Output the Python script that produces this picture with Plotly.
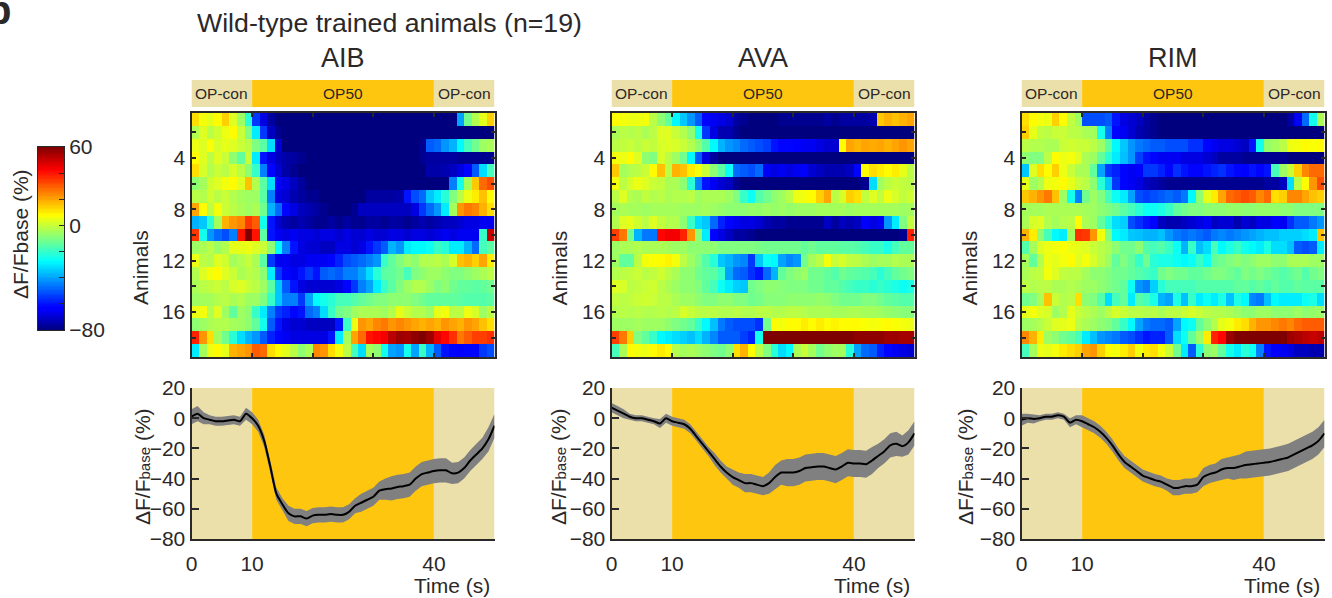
import numpy as np
import plotly.graph_objects as go

# ---------- data ----------
panel_names = ["AIB", "AVA", "RIM"]

aib_rows = [
[12,6,4,8,14,3,-6,-22,-55,-68,-76,-80,-80,-80,-80,-80,-80,-80,-80,-80,-80,-80,-80,-80,-80,-80,-80,-80,-80,-80,-80,-80,-80,-80,-80,-40,-12,-3,4,14],
[-3,3,-2,1,5,8,0,-10,-30,-55,-72,-78,-80,-80,-80,-80,-80,-80,-80,-80,-80,-80,-80,-80,-80,-80,-80,-80,-80,-80,-80,-80,-80,-80,-80,-80,-80,-80,-80,-80],
[5,3,7,2,4,3,0,-2,-10,-15,-32,-70,-80,-80,-80,-80,-80,-80,-80,-80,-80,-80,-80,-80,-80,-80,-80,-80,-80,-80,-78,-50,-48,-42,-38,-28,-18,-12,-6,-4],
[8,3,-2,3,0,-8,-14,0,-30,-60,-68,-72,-75,-76,-78,-80,-80,-80,-80,-80,-80,-80,-80,-80,-80,-80,-80,-80,-80,-80,-78,-76,-76,-76,-76,-78,-78,-78,-78,-78],
[12,2,-3,0,-2,2,-2,-8,-20,-45,-62,-70,-75,-78,-80,-80,-80,-80,-80,-80,-80,-80,-80,-80,-80,-80,-80,-80,-80,-80,-80,-75,-75,-74,-72,-68,-62,-50,-32,-18],
[-8,-5,1,3,6,8,3,16,-3,-15,-32,-65,-68,-72,-76,-80,-80,-80,-80,-80,-80,-80,-80,-80,-80,-80,-80,-80,-80,-80,-80,-80,-80,-80,-45,-25,-5,15,28,32],
[-2,-3,1,-2,0,-3,-5,-6,-6,-15,-45,-68,-70,-74,-76,-78,-78,-80,-80,-80,-80,-80,-80,-76,-76,-76,-76,-75,-60,-52,-48,-35,-30,-22,-10,-2,5,10,16,8],
[20,8,-2,6,0,-2,-4,-6,-4,-12,-38,-48,-62,-68,-72,-74,-76,-78,-80,-80,-80,-78,-72,-72,-72,-72,-72,-72,-72,-68,-55,-48,-42,-30,-5,22,26,24,18,12],
[-38,-35,-22,-5,18,22,24,35,30,-25,-60,-70,-74,-76,-74,-76,-78,-78,-76,-78,-76,-78,-78,-76,-76,-78,-76,-76,-78,-76,-74,-76,-74,-72,-72,-70,-68,-68,-66,-66],
[35,-25,-42,-48,-52,-45,40,60,40,-15,-60,-66,-68,-66,-68,-68,-70,-68,-68,-70,-68,-70,-70,-68,-70,-70,-68,-68,-70,-68,-68,-70,-68,-66,-68,-66,-66,-66,-20,50],
[-6,-4,-2,-6,-3,4,4,5,3,0,-8,-28,-45,-60,-68,-70,-70,-72,-72,-68,-68,-70,-68,-60,-55,-50,-38,-42,-30,-28,-28,-26,-20,-22,-30,-30,-38,-48,-18,-15],
[5,-2,-3,3,1,-5,-3,0,-4,-15,-55,-66,-66,-68,-68,-66,-66,-66,-62,-58,-52,-50,-48,-45,-42,-20,-14,-10,-6,-8,-3,-3,-2,-4,2,16,18,14,20,10],
[-3,3,6,8,3,0,-4,-2,-3,-8,-30,-55,-62,-66,-60,-55,-60,-50,-48,-50,-45,-45,-40,-32,-22,-15,-14,-12,-18,-10,-8,-6,-6,-8,-10,-10,-8,-6,-4,-2],
[-4,-2,-1,0,-2,2,3,0,-2,-6,-15,-35,-50,-60,-68,-70,-70,-70,-70,-68,-62,-55,-45,-40,-30,-20,-15,-10,-6,-3,-3,-6,-10,-8,-12,-14,-14,-15,-14,-12],
[-6,-5,-5,-3,-2,-4,-3,-6,-6,-10,-20,-35,-45,-45,-55,-40,-28,-25,-22,-18,-18,-16,-14,-12,-10,-10,-8,-8,-8,-10,-12,-14,-14,-14,-14,-15,-16,-16,-16,-15],
[5,6,-3,3,-6,-14,-6,-8,-20,-30,-45,-55,-58,-62,-60,-48,-45,-32,-20,-12,-10,-6,-4,-4,-4,-6,-3,4,0,-3,-3,-6,4,6,-2,-2,5,2,-6,-2],
[-8,-6,-4,-3,-3,-5,-6,-8,-14,-25,-50,-60,-68,-70,-70,-72,-72,-72,-72,-60,-20,5,22,20,24,26,22,24,22,20,18,20,18,22,20,18,22,20,16,12],
[38,22,12,-5,-12,-22,-32,-38,-42,-50,-58,-62,-66,-68,-68,-68,-68,-68,-60,-30,-5,20,28,40,42,44,52,56,55,58,60,56,46,42,36,26,30,34,34,36],
[-30,-5,5,8,4,18,20,22,30,28,12,8,4,-2,-8,-4,24,22,12,6,-2,-18,-32,-5,-8,-25,-40,-42,-25,-40,-20,-38,-50,-60,-62,-65,-62,-62,-55,-52],
]

ava_rows = [
[8,6,5,5,6,-2,-8,-14,-28,-35,-42,-50,-62,-66,-68,-70,-76,-78,-80,-80,-80,-80,-78,-78,-78,-78,-78,-78,-76,-78,-76,-76,-76,-76,-74,15,18,16,18,20],
[-4,-2,-3,-2,-4,-2,3,3,0,-3,-8,-25,-55,-68,-74,-74,-78,-80,-80,-80,-80,-80,-80,-80,-80,-80,-80,-80,-80,-80,-80,-80,-80,-80,-80,-80,-80,-80,-80,-80],
[-2,-1,0,-2,0,-1,2,3,2,0,-3,-8,-16,-28,-38,-42,-44,-48,-50,-52,-54,-60,-62,-62,-64,-66,-66,-68,-70,-70,8,20,18,20,19,20,18,20,22,20],
[6,5,8,3,-8,-10,2,-2,-6,-12,-28,-50,-68,-76,-80,-80,-80,-80,-80,-80,-80,-80,-80,-80,-80,-80,-80,-80,-80,-80,-80,-80,-80,-80,-80,-80,-80,-80,-80,-80],
[15,-5,-3,-2,0,8,16,-2,18,16,10,6,0,-8,-15,-26,-48,-50,-52,-48,-66,-68,-66,-68,-66,-64,-70,-72,-74,-74,-74,-72,-62,8,12,10,8,10,4,-2],
[6,-2,2,5,3,0,-1,-4,-4,-8,-22,-45,-60,-66,-70,-72,-78,-80,-80,-80,-80,-80,-80,-80,-80,-80,-80,-80,-80,-80,-80,-80,-80,-78,-32,-6,-2,0,-1,-2],
[-2,3,-3,-4,-1,-3,-2,-4,-3,-3,-2,-6,-4,-4,-4,-6,-10,-20,-26,-16,-12,-8,-6,-2,5,6,8,14,20,-2,2,14,12,-1,3,-1,5,2,-1,1],
[-5,-4,-5,-5,-6,-5,-5,-5,-5,-6,-6,-6,-5,-6,-7,-8,-8,-8,-7,-7,-6,-7,-6,-7,-6,-6,-6,-5,-5,-5,-5,-6,-5,-5,-5,-5,-5,-5,-6,-5],
[-3,3,4,1,-2,3,-1,-3,-3,-8,-20,-32,-35,-48,-58,-62,-66,-68,-68,-70,-74,-76,-76,-78,-78,-78,-78,-78,-72,-76,-72,-74,-72,-65,-68,-66,-42,-30,-10,-1],
[34,26,-12,-38,-46,-46,42,44,44,38,22,-8,-30,-62,-68,-72,-76,-76,-78,-80,-80,-80,-80,-80,-80,-80,-80,-80,-80,-80,-80,-80,-80,-80,-80,-80,-80,-80,-78,38],
[-6,-4,-4,-3,-4,-4,-4,-5,-6,-6,-8,-8,-8,-8,-10,-10,-10,-10,-10,-11,-12,-12,-12,-12,-12,-14,-12,-14,-14,-14,-15,-15,-16,-18,-20,-20,-24,-18,-14,-14],
[-6,-14,-14,-2,6,7,8,9,6,-2,-6,-10,-16,-22,-35,-38,-42,-44,-55,-35,-26,-28,-40,-44,-42,-12,-5,-2,6,0,2,-1,-2,-4,-6,-5,-5,-3,-4,-4],
[-3,-2,-1,0,-2,-1,1,-2,-4,-8,-8,-12,-14,-15,-20,-40,-48,-50,-56,-60,-48,-38,-14,-10,-8,-6,-12,-12,-14,-16,-12,-14,-15,-16,-18,-22,-18,-14,-12,-10],
[3,2,-2,-1,0,1,-2,-4,-6,-8,-8,-10,-14,-18,-26,-30,-34,-35,-12,-10,-8,-8,-9,-10,-10,-10,-12,-12,-14,-14,-16,-18,-20,-20,-22,-20,-22,-24,-26,-24],
[-1,-2,-1,0,1,0,-2,-2,-4,-6,-6,-8,-10,-10,-8,-8,-10,-10,-12,-11,-9,-9,-9,-8,-8,-8,-8,-7,-8,-10,-12,-12,-12,-10,-10,-12,-14,-15,-16,-16],
[-3,-2,-3,-2,-3,-3,-2,-3,-2,2,0,-2,-2,-2,-3,-3,-2,-3,-3,-2,-2,-3,-3,-2,-2,-3,-4,-4,-4,-5,-5,-4,-4,-5,-5,-6,-7,-8,-9,-9],
[-6,-6,-6,-5,-6,-6,-6,-8,-10,-12,-14,-20,-28,-36,-46,-50,-52,-52,-52,-56,-12,8,6,8,8,10,8,10,8,9,8,8,8,7,6,7,8,7,6,5],
[34,26,14,-10,-14,-20,-28,-30,-32,-34,-36,-32,-38,-44,-50,-50,-50,-54,-58,-25,60,60,60,60,60,60,60,60,60,60,60,60,58,58,58,58,56,56,55,55],
[-18,-4,8,6,5,8,10,8,-3,-5,-4,-6,-8,-10,-12,-8,12,18,8,-2,-10,-22,-32,-28,-4,0,-5,-12,-8,-6,-5,-22,-40,-48,-50,-58,-62,-66,-68,-70],
]

rim_rows = [
[12,8,6,5,14,8,-1,-6,-52,-52,-52,-50,-60,-68,-70,-72,-76,-78,-80,-80,-80,-80,-80,-80,-80,-80,-80,-80,-80,-80,-80,-80,-80,-80,-80,-76,-66,-48,-25,-4],
[14,4,-1,-2,0,0,-2,-2,-4,-5,-25,-45,-62,-66,-70,-74,-76,-78,-80,-80,-80,-80,-80,-80,-80,-80,-80,-80,-80,-80,-80,-80,-80,-80,-80,-80,-80,-80,-80,-80],
[-2,-3,-3,-4,-4,0,1,0,0,-2,-6,-15,-28,-35,-42,-46,-48,-50,-50,-52,-52,-52,-56,-56,-62,-66,-68,-68,-70,-72,-60,-25,-7,-5,-2,5,6,8,7,8],
[-8,-10,-10,-2,8,5,6,3,-4,-6,-14,-22,-30,-36,-42,-54,-60,-62,-66,-66,-66,-68,-68,-68,-70,-72,-76,-76,-76,-78,-78,-78,-78,-78,-78,-80,-80,-80,-80,-80],
[-35,3,12,8,14,5,0,-4,-4,-14,-40,-55,-58,-62,-66,-64,-55,-55,-58,-62,-56,-60,-62,-62,-60,-58,-56,-60,-62,-64,-60,-62,-60,-18,-6,0,14,24,28,28],
[4,-6,-3,5,6,8,4,0,-2,-8,-22,-35,-55,-62,-66,-68,-72,-74,-76,-78,-78,-78,-78,-78,-78,-78,-78,-78,-78,-78,-78,-78,-76,-76,-72,-32,-2,8,22,32],
[15,18,22,26,16,-6,-25,-45,-12,-6,-10,-18,-26,-30,-40,-52,-54,-52,-50,-48,-50,-46,-28,-8,4,10,20,28,30,32,30,24,28,12,14,24,24,20,16,14],
[-5,-5,-5,-4,-4,-4,-4,-4,-5,-6,-8,-10,-12,-15,-18,-22,-26,-26,-24,-20,-14,-12,-10,-10,-8,-8,-8,-7,-7,-8,-8,-7,-7,-7,-8,-8,-10,-10,-10,-10],
[-4,2,3,-3,-5,-3,-2,8,-4,-6,-14,-22,-32,-34,-52,-56,-60,-62,-72,-74,-74,-72,-70,-68,-66,-72,-70,-70,-74,-70,-72,-68,-68,-64,-66,-56,-50,-50,-46,-42],
[18,10,-8,-18,-28,-30,-5,36,35,22,6,-10,-28,-30,-35,-36,-38,-38,-36,-42,-46,-48,-46,-48,-50,-46,-44,-46,-44,-42,-40,-38,-36,-36,-34,-34,-34,-32,-30,16],
[-16,-5,3,5,6,7,5,4,3,0,-2,-4,-8,-12,-12,-8,-16,-18,-16,-20,-26,-38,-20,-36,-32,-18,-28,-24,-20,-25,-28,-30,-24,-32,-32,-36,-50,-52,-50,-30],
[-5,-14,-3,5,4,6,8,3,6,2,-2,-6,-14,-10,-14,-20,-12,-22,-24,-24,-26,-28,-26,-20,-26,-14,-12,-10,-8,-10,-8,-6,-6,-8,-8,-4,-4,-4,-6,-6],
[-4,-2,-1,6,3,-1,-2,-2,-5,-8,-8,-10,-12,-12,-14,-16,-18,-20,-12,-10,-12,-12,-14,-14,-12,-10,-10,-12,-14,-10,-12,-10,-12,-14,-16,-14,-12,-16,-12,-10],
[-2,-3,-2,-2,-4,-4,-3,-4,-6,-6,-8,-10,-12,-14,-26,-42,-45,-34,-22,-18,-18,-18,-18,-16,-16,-16,-16,-16,-14,-14,-16,-14,-16,-14,-16,-16,-14,-15,-15,-15],
[-12,-10,-4,16,0,-3,-2,12,-8,-10,-16,-32,-18,-14,-30,-16,-18,-24,-38,-40,-24,-36,-20,-30,-26,-30,-24,-36,-24,-28,-44,-46,-36,-28,-30,-30,-30,-26,-24,-32],
[4,6,3,2,-6,-3,4,0,-2,-4,-6,-2,2,0,-2,-2,-3,-2,-4,-2,-2,0,2,0,-2,-3,-3,-4,-6,-8,-8,-6,-6,-8,-8,-8,-6,-8,-7,-6],
[-6,-5,-3,0,3,4,5,-2,-4,-6,-8,-10,-14,-20,-28,-40,-46,-48,-48,-50,-40,-28,-26,-14,-8,-3,4,6,10,12,18,22,22,24,26,24,28,30,30,30],
[24,18,10,-6,-8,-12,-14,-18,-30,-36,-42,-44,-46,-50,-52,-56,-60,-58,-58,-50,-32,-26,-14,-6,10,38,42,56,60,60,60,60,60,60,60,56,54,52,50,52],
[-18,-5,5,4,6,10,12,14,20,22,14,8,6,10,14,6,10,12,6,0,-12,-30,-50,-22,-8,-6,-14,-25,-30,-22,-26,-45,-60,-65,-66,-68,-72,-72,-74,-74],
]

heat_seconds = [0.625 + 1.25 * i for i in range(40)]
row_numbers = list(range(1, 20))
line_seconds = list(range(0, 51))

aib_mean = [1,3,0,-1,-2,-2,-1.5,-1,-2,3,0,-5,-15,-32,-50,-57,-63,-65,-65,-66.5,-64.5,-64,-64,-63.5,-64,-64,-62,-58,-56,-54,-52,-48,-47,-46.5,-45.5,-45,-44,-40,-37,-36,-35,-34.5,-34.5,-36.5,-36,-33,-28,-24,-20,-14,-5]
aib_err = [5,5,4,3,3,3,3,3,3,4,4,4,4,4,4,4,5,5,5,5,5,5,5,5,5,5,5,5,6,6,6,6,7,8,8,8,8,8,8,8,8,8,8,7,7,7,7,7,7,8,8]
ava_mean = [7,5,3,1,0,0,-1,-2,-3.5,0,-2,-3,-4,-7,-12,-17,-22,-27,-32,-36,-39,-41,-43,-43,-44,-45,-43,-39,-36,-36,-36,-35,-33,-32.5,-32,-32,-33,-34,-32,-29.5,-30,-30,-30.5,-28,-25,-22,-18,-17,-18.5,-16,-10]
ava_err = [3,3,3,2,2,2,2,2,3,3,3,3,3,3,3,3,3,4,4,4,5,5,6,6,6,6,7,8,8,9,9,9,9,9,9,9,9,9,9,9,9,9,9,9,8,8,8,8,7,8,8]
rim_mean = [-1,0,-0.5,0,1,1,2,1,-3,-1,-2,-4,-6,-9,-13,-18,-24,-29,-32,-35,-38,-39.5,-41,-42,-44,-46,-46,-45,-45,-44,-39,-37,-36,-34,-33,-33,-32,-31,-30.5,-30,-29.5,-29,-28,-27,-26,-24,-22,-20,-18,-15,-10]
rim_err = [4,3,3,2,2,2,2,2,3,3,4,4,4,4,4,4,4,4,4,4,4,4,4,4,4,5,5,5,5,5,6,6,6,7,7,8,8,9,9,9,9,9,9,9,9,9,9,9,9,9,9]

strip_spans = [(0, 10, "OP-con"), (10, 40, "OP50"), (40, 50, "OP-con")]
y_line_ticks = [-80, -60, -40, -20, 0, 20]
x_line_ticks = [0, 10, 40]
x_heat_ticks = [0, 10, 20, 30, 40]
cbar_levels = list(range(-80, 61))
cbar_labelled = [-80, 0, 60]

# ---------- styling ----------
W, H = 1332, 598
INK = "#2b2829"
TAN = "#ece0aa"
GOLD = "#ffc60f"
FONT = "Liberation Sans, Arial, sans-serif"
JET = [[0, "#00007f"], [0.11, "#0000ff"], [0.125, "#0000ff"], [0.375, "#00ffff"],
       [0.625, "#ffff00"], [0.875, "#ff0000"], [1, "#7f0000"]]
PANEL_LEFT = [191.5, 611.5, 1021.5]
PANEL_W = 303
HEAT_TOP, HEAT_BOT = 113, 357
LINE_TOP, LINE_BOT = 388, 539
STRIP_TOP, STRIP_BOT = 80, 107

def px(x): return x / W
def py(y): return 1 - y / H

fig = go.Figure()
all_rows = [aib_rows, ava_rows, rim_rows]
all_means = [aib_mean, ava_mean, rim_mean]
all_errs = [aib_err, ava_err, rim_err]
shapes, annos = [], []
tf = dict(family=FONT, size=21, color=INK)

def ann(x, y, text, size=21, rot=0, anchor="center", **kw):
    annos.append(dict(x=px(x), y=py(y), xref="paper", yref="paper", text=text, showarrow=False,
                      font=dict(family=FONT, size=size, color=INK), textangle=rot,
                      xanchor=anchor, yanchor=kw.pop("yanchor", "middle"), **kw))

for p in range(3):
    rows = all_rows[p]
    assert len(rows) == 19 and all(len(r) == 40 for r in rows), [len(r) for r in rows]
    hx, hy = f"x{2*p+1}", f"y{2*p+1}"
    lx, ly = f"x{2*p+2}", f"y{2*p+2}"
    fig.add_trace(go.Heatmap(z=rows, x=heat_seconds, y=row_numbers, xaxis=hx, yaxis=hy,
                             colorscale=JET, zmin=-80, zmax=60, showscale=False, hoverinfo="skip"))
    t = np.array(line_seconds, float)
    m = np.array(all_means[p], float)
    e = np.array(all_errs[p], float)
    fig.add_trace(go.Scatter(x=np.r_[t, t[::-1]], y=np.r_[m + e, (m - e)[::-1]], fill="toself",
                             fillcolor="#808080", mode="none", xaxis=lx, yaxis=ly, hoverinfo="skip",
                             showlegend=False))
    fig.add_trace(go.Scatter(x=t, y=m, mode="lines", line=dict(color="#000000", width=2, shape="spline", smoothing=0.6),
                             xaxis=lx, yaxis=ly, hoverinfo="skip", showlegend=False))
    L = PANEL_LEFT[p]
    dom = [px(L), px(L + PANEL_W)]
    hxn = "xaxis" if p == 0 else f"xaxis{2*p+1}"
    hyn = "yaxis" if p == 0 else f"yaxis{2*p+1}"
    fig.layout[hxn] = dict(domain=dom, range=[0, 50], anchor=hy, showgrid=False, zeroline=False,
                           showline=True, linecolor=INK, linewidth=2, mirror="ticks", ticks="inside",
                           ticklen=4, tickcolor=INK, tickwidth=1.5, tickmode="array",
                           tickvals=x_heat_ticks, showticklabels=False)
    fig.layout[hyn] = dict(domain=[py(HEAT_BOT), py(HEAT_TOP)], range=[19.5, 0.5], anchor=hx, showgrid=False,
                           zeroline=False, showline=True, linecolor=INK, linewidth=2, mirror="ticks",
                           ticks="inside", ticklen=4, tickcolor=INK, tickwidth=1.5,
                           tick0=0, dtick=4,
                           minor=dict(ticks="inside", ticklen=4, tickcolor=INK, tickwidth=1.5, tick0=0, dtick=2),
                           tickfont=tf)
    fig.layout[f"xaxis{2*p+2}"] = dict(domain=dom, range=[0, 50], anchor=ly, showgrid=False, zeroline=False,
                                       showline=True, linecolor=INK, linewidth=2, ticks="outside", ticklen=5,
                                       tickcolor="rgba(0,0,0,0)", tickmode="array", tickvals=x_line_ticks,
                                       tickfont=tf)
    fig.layout[f"yaxis{2*p+2}"] = dict(domain=[py(LINE_BOT), py(LINE_TOP)], range=[-80, 20], anchor=lx,
                                       showgrid=False, zeroline=False, showline=True, linecolor=INK, linewidth=2,
                                       ticks="inside", ticklen=7, tickcolor=INK, tickwidth=2, tickmode="array",
                                       tickvals=y_line_ticks, tickfont=tf)
    for a, b, label in strip_spans:
        col = GOLD if label == "OP50" else TAN
        shapes.append(dict(type="rect", xref=lx, yref="paper", x0=a, x1=b, y0=py(STRIP_BOT), y1=py(STRIP_TOP),
                           fillcolor=col, line_width=0))
        shapes.append(dict(type="rect", xref=lx, yref=ly, x0=a, x1=b, y0=-80, y1=20,
                           fillcolor=col, line_width=0, layer="below"))
        annos.append(dict(x=(a + b) / 2, y=py((STRIP_TOP + STRIP_BOT) / 2), xref=lx, yref="paper", text=label,
                          showarrow=False, yanchor="middle", font=dict(family=FONT, size=15.5, color=INK)))
    ann(L + PANEL_W / 2 - 0.5, 58, panel_names[p], size=27)
    ann(L - 51 + (0.5 if p == 0 else -1), 268, "Animals", rot=-90)
    ann([142, 558, 965][p], 467, 'ΔF/F<span style="font-size:15px">base</span> (%)', rot=-90)
    ann(L + PANEL_W - 3, 585, "Time (s)", anchor="right")

# colour bar drawn on its own small axes so only its three values carry labels
fig.add_trace(go.Heatmap(z=[[v] for v in cbar_levels], x=[0], y=cbar_levels, xaxis="x7", yaxis="y7",
                         colorscale=JET, zmin=-80, zmax=60, showscale=False, hoverinfo="skip"))
fig.layout["xaxis7"] = dict(domain=[px(38), px(64)], anchor="y7", showgrid=False, zeroline=False, showticklabels=False,
                            ticks="", showline=True, linecolor=INK, linewidth=1, mirror=True)
fig.layout["yaxis7"] = dict(domain=[py(330), py(147)], anchor="x7", range=[-80, 60], side="right", showgrid=False,
                            zeroline=False, showline=True, linecolor=INK, linewidth=1, mirror=True, ticks="inside",
                            ticklen=5, tickcolor=INK, tickwidth=1, tickmode="array", tickvals=cbar_labelled,
                            minor=dict(ticks="inside", ticklen=5, tickcolor=INK, tickwidth=1, tick0=0, dtick=20),
                            tickfont=tf)

ann(195, 23, "Wild-type trained animals (n=19)", size=26.7, anchor="left")
ann(21, 234, "ΔF/Fbase (%)", rot=-90)
ann(13, 34, "<b>b</b>", size=40, anchor="right", yanchor="bottom")

fig.update_layout(width=W, height=H, margin=dict(l=0, r=0, t=0, b=0, autoexpand=False), paper_bgcolor="white",
                  plot_bgcolor="rgba(0,0,0,0)", shapes=shapes, annotations=annos, showlegend=False,
                  font=dict(family=FONT, color=INK))
fig.write_html("out.html", config=dict(displayModeBar=False),
               post_script="document.body.style.margin='0';document.body.style.overflow='hidden';")
